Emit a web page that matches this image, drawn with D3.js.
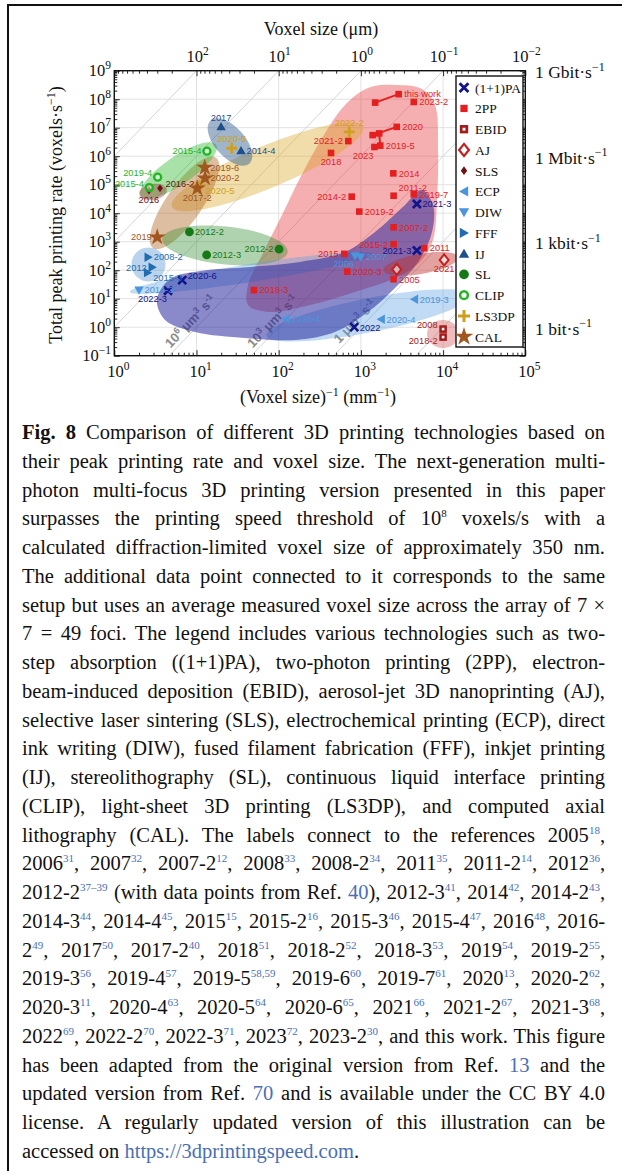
<!DOCTYPE html>
<html><head><meta charset="utf-8">
<script src="https://cdn.jsdelivr.net/npm/d3@7"></script>
<style>
body{margin:0;background:#fff;}
#wrap{position:relative;width:622px;height:1171px;overflow:hidden;background:#fff;}
#frame{position:absolute;left:7px;top:4px;width:700px;height:1300px;border-left:2px solid #111;border-top:2px solid #111;}
#chart{position:absolute;left:0;top:0;}
#cap{position:absolute;left:22px;top:418px;width:583px;font-family:"Liberation Serif","Times New Roman",serif;font-size:20.5px;line-height:28.76px;color:#111;}
#cap div{text-align:justify;text-align-last:justify;height:28.76px;}
#cap div.last{text-align-last:left;}
#cap sup{font-size:11px;line-height:0;vertical-align:baseline;position:relative;top:-8px;color:#4a6fb5;}
#cap sup.k{color:#111;}
.ref{color:#4a6fb5;}
</style></head>
<body>
<div id="wrap">
<div id="frame"></div>
<svg id="chart"></svg>
<div id="cap">
<div><b>Fig. 8</b> Comparison of different 3D printing technologies based on</div>
<div>their peak printing rate and voxel size. The next-generation multi-</div>
<div>photon multi-focus 3D printing version presented in this paper</div>
<div>surpasses the printing speed threshold of 10<sup class="k">8</sup> voxels/s with a</div>
<div>calculated diffraction-limited voxel size of approximately 350 nm.</div>
<div>The additional data point connected to it corresponds to the same</div>
<div>setup but uses an average measured voxel size across the array of 7 ×</div>
<div>7 = 49 foci. The legend includes various technologies such as two-</div>
<div>step absorption ((1+1)PA), two-photon printing (2PP), electron-</div>
<div>beam-induced deposition (EBID), aerosol-jet 3D nanoprinting (AJ),</div>
<div>selective laser sintering (SLS), electrochemical printing (ECP), direct</div>
<div>ink writing (DIW), fused filament fabrication (FFF), inkjet printing</div>
<div>(IJ), stereolithography (SL), continuous liquid interface printing</div>
<div>(CLIP), light-sheet 3D printing (LS3DP), and computed axial</div>
<div>lithography (CAL). The labels connect to the references 2005<sup>18</sup>,</div>
<div>2006<sup>31</sup>, 2007<sup>32</sup>, 2007-2<sup>12</sup>, 2008<sup>33</sup>, 2008-2<sup>34</sup>, 2011<sup>35</sup>, 2011-2<sup>14</sup>, 2012<sup>36</sup>,</div>
<div>2012-2<sup>37–39</sup> (with data points from Ref. <span class="ref">40</span>), 2012-3<sup>41</sup>, 2014<sup>42</sup>, 2014-2<sup>43</sup>,</div>
<div>2014-3<sup>44</sup>, 2014-4<sup>45</sup>, 2015<sup>15</sup>, 2015-2<sup>16</sup>, 2015-3<sup>46</sup>, 2015-4<sup>47</sup>, 2016<sup>48</sup>, 2016-</div>
<div>2<sup>49</sup>, 2017<sup>50</sup>, 2017-2<sup>40</sup>, 2018<sup>51</sup>, 2018-2<sup>52</sup>, 2018-3<sup>53</sup>, 2019<sup>54</sup>, 2019-2<sup>55</sup>,</div>
<div>2019-3<sup>56</sup>, 2019-4<sup>57</sup>, 2019-5<sup>58,59</sup>, 2019-6<sup>60</sup>, 2019-7<sup>61</sup>, 2020<sup>13</sup>, 2020-2<sup>62</sup>,</div>
<div>2020-3<sup>11</sup>, 2020-4<sup>63</sup>, 2020-5<sup>64</sup>, 2020-6<sup>65</sup>, 2021<sup>66</sup>, 2021-2<sup>67</sup>, 2021-3<sup>68</sup>,</div>
<div>2022<sup>69</sup>, 2022-2<sup>70</sup>, 2022-3<sup>71</sup>, 2023<sup>72</sup>, 2023-2<sup>30</sup>, and this work. This figure</div>
<div>has been adapted from the original version from Ref. <span class="ref">13</span> and the</div>
<div>updated version from Ref. <span class="ref">70</span> and is available under the CC BY 4.0</div>
<div>license. A regularly updated version of this illustration can be</div>
<div class="last">accessed on <span class="ref">https://3dprintingspeed.com</span>.</div>
</div>
</div>
<script>
// ---------------- DATA ----------------
const techNames = ["(1+1)PA","2PP","EBID","AJ","SLS","ECP","DIW","FFF","IJ","SL","CLIP","LS3DP","CAL"];

// [label, (voxel size)^-1 in mm^-1, total peak printing rate in voxels/s]
const paPoints    = [["2021-3",4.8e3,2.1e4],["2021-3",4.8e3,490],["2020-6",6.7,45],["2022-3",4.5,19],["2022",830,1.0]];
const tppPoints   = [["this work",2.88e3,1.5e8],["2023-2",4.4e3,8.0e7],["2020",2.73e3,1.07e7],["2019-5",1.72e3,2.35e6],["2023",1.46e3,2.1e6],
                     ["2021-2",703,3.4e6],["2018",433,1.3e6],["2014",2.48e3,2.5e5],["2014-2",773,3.8e4],["2011-2",2.5e3,4.1e4],
                     ["2019-7",4.4e3,4.6e4],["2019-2",955,1.14e4],["2007-2",2.5e3,3.2e3],["2015-2",2.5e3,817],["2011",5.9e3,592],
                     ["2015",628,373],["2020-3",683,89],["2005",2.5e3,48],["2018-3",50,20]];
const tppLinked   = [[[1.49e3,7.6e7],[2.88e3,1.5e8]],[[1.39e3,5.5e6],[2.73e3,1.07e7]],[[1.67e3,6.3e6],[1.72e3,2.35e6]]];
const ebidPoints  = [["2008",1e4,0.86],["2018-2",1e4,0.45]];
const ajPoints    = [["",2.73e3,107],["2021",1.03e4,230]];
const slsPoints   = [["2016-2",3.6,7.5e4],["2016",2.64,6.3e4]];
const ecpPoints   = [["2020-4",122,1.95],["2020-4",1.76e3,1.9],["2019-3",4.47e3,9.6]];
const diwPoints   = [["2014-3",2.0,20],["2006",848,318],["2007",989,286]];
const fffPoints   = [["2008-2",2.59,286],["2012",2.9,127],["2015-3",2.55,82]];
const ijPoints    = [["2017",19.9,1.09e7],["2014-4",34.8,1.57e6]];
const slPoints    = [["2012-2",8.2,2.2e3],["2012-3",13.3,344],["2012-2",101,546]];
const clipPoints  = [["2015-4",13.4,1.5e6],["2019-4",3.37,1.83e5],["2015-4",2.67,7.9e4]];
const ls3dpPoints = [["2020-5",26.8,1.9e6],["2022-2",722,7.1e6],["2020-5",11,9.1e4]];
const calPoints   = [["2019-6",12.6,4e5],["2020-2",12.7,1.7e5],["2017-2",10.2,7.5e4],["2019",3.33,1.44e3]];

// region outlines, log10 of (x, rate)
const region2PP  = [[3.415,8.502],[3.743,8.361],[3.901,7.8],[3.938,6.221],[3.926,4.467],[3.877,3.063],[3.719,2.291],[3.415,1.73],
                    [2.928,1.239],[2.381,0.782],[1.87,0.537],[1.627,0.782],[1.627,1.484],[1.797,2.537],[2.04,3.94],[2.259,5.239],
                    [2.527,6.642],[2.807,7.8],[3.086,8.396]];
const regionPA   = [[3.743,4.818],[3.877,4.291],[3.865,3.344],[3.695,2.291],[3.415,1.379],[3.086,0.537],[2.685,-0.165],[2.198,-0.446],
                    [1.59,-0.375],[0.982,-0.165],[0.617,0.256],[0.519,0.958],[0.678,1.695],[1.043,1.975],[1.651,2.116],[2.259,2.291],
                    [2.807,2.642],[3.172,3.344],[3.537,4.291]];
const regionIJ    = [[1.644,5.747],[1.273,6.151],[1.172,7.256],[1.543,6.853]];
const regionLS3DP = [[3.026,7.025],[1.962,4.944],[0.702,4.225],[1.765,6.305]];
const regionCAL   = [[1.237,5.944],[1.033,4.0],[0.471,2.779],[0.675,4.723]];
const regionCLIP  = [[1.238,6.4],[0.877,5.095],[0.324,4.604],[0.685,5.909]];
const regionSLS   = [[0.639,4.832],[0.488,4.47],[0.303,4.663],[0.454,5.025]];
const regionSL    = [[2.109,2.639],[1.322,2.207],[0.584,3.102],[1.371,3.533]];
const regionFFF   = [[0.623,2.204],[0.416,1.607],[0.209,2.204],[0.416,2.8]];
const regionDIW   = [[3.135,2.572],[1.68,1.593],[0.191,1.239],[1.646,2.218]];
const regionECP   = [[4.333,1.123],[3.133,-0.172],[1.852,-0.295],[3.052,1.0]];
const regionEBID  = [[4.193,-0.235],[3.999,-0.726],[3.804,-0.235],[3.999,0.256]];
const regionAJ    = [[4.186,2.453],[3.752,1.877],[3.276,1.989],[3.71,2.565]];

// constant volume-rate lines (um^3/s) and labelled ones [value, exponent text, x where label sits]
const volumeRates  = [1e-3,1,1e3,1e6,1e9,1e12,1e15,1e18];
const volumeLabels = [[1e6,"6",10],[1e3,"3",100],[1,"",1000]];

const xTickExps   = [0,1,2,3,4,5];
const yTickExps   = [-1,0,1,2,3,4,5,6,7,8,9];
const topTickExps = [2,1,0,-1,-2];            // voxel size in um
const bitLabels   = [["1 Gbit·s",1e9],["1 Mbit·s",1e6],["1 kbit·s",1e3],["1 bit·s",1]];

// ---------------- STYLE ----------------
const col = {"(1+1)PA":"#13138a","2PP":"#e3201f","EBID":"#a31c1c","AJ":"#c42222","SLS":"#6e1313","ECP":"#4a95dc",
             "DIW":"#4a95dc","FFF":"#1f6cb0","IJ":"#1e4f8a","SL":"#157a15","CLIP":"#1fb51f","LS3DP":"#cfa020","CAL":"#a0561e"};
const series = [
 ["(1+1)PA",paPoints,["r","l","ru","bl","r"]],
 ["2PP",tppPoints,["r","r","r","r","bl","l","b","r","l","ru2","r","r","r","l","r","l","r","r","r"]],
 ["EBID",ebidPoints,["lu","ld"]],
 ["AJ",ajPoints,["","b"]],
 ["SLS",slsPoints,["ru","b"]],
 ["ECP",ecpPoints,["r","r","r"]],
 ["DIW",diwPoints,["r","bl","r"]],
 ["FFF",fffPoints,["r","l","rd"]],
 ["IJ",ijPoints,["t","r"]],
 ["SL",slPoints,["r","r","l"]],
 ["CLIP",clipPoints,["l","lu","lu"]],
 ["LS3DP",ls3dpPoints,["t","t","rd"]],
 ["CAL",calPoints,["r","r","b","l"]]
];
const place = {r:[5.5,3.3,"start"],l:[-5.5,3.3,"end"],ru:[5.5,-1.5,"start"],ru2:[5,-4.5,"start"],lu:[-5.5,-1,"end"],ld:[-5.5,6.5,"end"],
               rd:[5.5,8,"start"],t:[0,-6,"middle"],b:[0,12.5,"middle"],bl:[-1,11.5,"end"]};

// ---------------- SCALES ----------------
const svg = d3.select("#chart").attr("width",622).attr("height",412);
const x = d3.scaleLog().domain([1,1e5]).range([114.3,525.3]);
const y = d3.scaleLog().domain([1e-1,1e9]).range([355.7,70.7]);
const L=x.range()[0], R=x.range()[1], T=y.range()[1], B=y.range()[0];
const serif='"Liberation Serif","Times New Roman",serif', sans='"Liberation Sans",Arial,sans-serif';
const sup = e => (e<0?"−"+(-e):""+e);

svg.append("defs").append("clipPath").attr("id","pc").append("rect").attr("x",L).attr("y",T).attr("width",R-L).attr("height",B-T);

// grid
const grid = svg.append("g").attr("stroke","#e2e2e2").attr("stroke-width",1);
xTickExps.forEach(e=>grid.append("line").attr("x1",x(10**e)).attr("x2",x(10**e)).attr("y1",T).attr("y2",B));
yTickExps.forEach(e=>grid.append("line").attr("y1",y(10**e)).attr("y2",y(10**e)).attr("x1",L).attr("x2",R));

// diagonal iso-volume-rate lines
const plot = svg.append("g").attr("clip-path","url(#pc)");
const rateAt = (v,xv)=> v*xv*xv*xv/1e9;
volumeRates.forEach(v=>{
  plot.append("line").attr("x1",x(1)).attr("y1",y(rateAt(v,1))).attr("x2",x(1e5)).attr("y2",y(rateAt(v,1e5)))
      .attr("stroke","#d4d4d4").attr("stroke-width",1);
});
const ang = Math.atan2(y(rateAt(1,1e3))-y(rateAt(1,1e4)), x(1e4)-x(1e3))*180/Math.PI;
volumeLabels.forEach(([v,ex,xv])=>{
  const px=x(xv), py=y(rateAt(v,xv));
  const t=plot.append("text").attr("transform",`translate(${px},${py}) rotate(${-ang})`).attr("text-anchor","middle")
    .attr("dy",-4).attr("font-family",sans).attr("font-weight","bold").attr("font-size",13).attr("fill","#8c8c8c");
  if(ex){ t.append("tspan").text("10"); t.append("tspan").attr("dy",-5).attr("font-size",9).text(ex); t.append("tspan").attr("dy",5).text(" μm"); }
  else { t.append("tspan").text("1 μm"); }
  t.append("tspan").attr("dy",-5).attr("font-size",9).text("3");
  t.append("tspan").attr("dy",5).text(" s");
  t.append("tspan").attr("dy",-5).attr("font-size",9).text("-1");
});

// regions
const lineE = d3.line().x(d=>x(10**d[0])).y(d=>y(10**d[1])).curve(d3.curveCardinalClosed.tension(-0.657));
const lineR = d3.line().x(d=>x(10**d[0])).y(d=>y(10**d[1])).curve(d3.curveCatmullRomClosed.alpha(0.5));
const regions = [
 [region2PP,lineR,"#e8383b",0.4],
 [regionLS3DP,lineE,"#d9a520",0.38],
 [regionCAL,lineE,"#b0651e",0.42],
 [regionCLIP,lineE,"#33bb33",0.42],
 [regionSLS,lineE,"#8b1a1a",0.35],
 [regionIJ,lineE,"#2d5a8c",0.45],
 [regionSL,lineE,"#2e8b2e",0.38],
 [regionFFF,lineE,"#4a8fd0",0.38],
 [regionDIW,lineE,"#5aa0e0",0.38],
 [regionECP,lineE,"#5aa0e0",0.38],
 [regionPA,lineR,"#1e1e9a",0.52],
 [regionAJ,lineE,"#c0302b",0.45],
 [regionEBID,lineE,"#d05050",0.38]
];
regions.forEach(([pts,ln,c,o])=>plot.append("path").attr("d",ln(pts)).attr("fill",c).attr("fill-opacity",o));

// ticks (inward) via d3 axes
const minorX=[], minorY=[], minorTop=[];
for(let e=0;e<5;e++) for(let m=2;m<10;m++) minorX.push(m*10**e);
for(let e=-1;e<9;e++) for(let m=2;m<10;m++) minorY.push(m*10**e);
for(let n=-2;n<=3;n++) for(let m=2;m<10;m++){const v=1000/(m*10**n); if(v>1&&v<1e5) minorTop.push(v);}
const majX = xTickExps.map(e=>10**e), majY = yTickExps.map(e=>10**e);
function ax(gen,pos,vals,size){
  const g=svg.append("g").attr("transform",pos).call(gen.tickValues(vals).tickSize(size).tickSizeOuter(0).tickFormat(""));
  g.select(".domain").remove(); g.selectAll("line").attr("stroke","#111").attr("stroke-width",0.9);
}
ax(d3.axisTop(x),`translate(0,${B})`,majX,5.5); ax(d3.axisTop(x),`translate(0,${B})`,minorX,3);
ax(d3.axisBottom(x),`translate(0,${T})`,majX,5.5); ax(d3.axisBottom(x),`translate(0,${T})`,minorTop,3);
ax(d3.axisRight(y),`translate(${L},0)`,majY,5.5); ax(d3.axisRight(y),`translate(${L},0)`,minorY,3);
ax(d3.axisLeft(y),`translate(${R},0)`,majY,5.5); ax(d3.axisLeft(y),`translate(${R},0)`,minorY,3);

svg.append("rect").attr("x",L).attr("y",T).attr("width",R-L).attr("height",B-T).attr("fill","none").attr("stroke","#111").attr("stroke-width",1.4);

// tick labels
function powText(px,py,anchor,e){
  const t=svg.append("text").attr("x",px).attr("y",py).attr("text-anchor",anchor).attr("font-family",serif).attr("font-size",16.5).attr("fill","#111");
  t.append("tspan").text("10"); t.append("tspan").attr("dy",-7).attr("font-size",11.5).text(sup(e));
}
yTickExps.forEach(e=>powText(111,y(10**e)+5.5,"end",e));
xTickExps.forEach(e=>powText(x(10**e)+4,377,"middle",e));
topTickExps.forEach(e=>powText(x(1000/10**e)+1,62,"middle",e));

// titles
svg.append("text").attr("x",321).attr("y",35).attr("text-anchor","middle").attr("font-family",serif).attr("font-size",18).attr("fill","#111").text("Voxel size (μm)");
const bt=svg.append("text").attr("x",318).attr("y",403).attr("text-anchor","middle").attr("font-family",serif).attr("font-size",18).attr("fill","#111");
bt.append("tspan").text("(Voxel size)"); bt.append("tspan").attr("dy",-7).attr("font-size",12).text("−1");
bt.append("tspan").attr("dy",7).text(" (mm"); bt.append("tspan").attr("dy",-7).attr("font-size",12).text("−1"); bt.append("tspan").attr("dy",7).text(")");
const lt=svg.append("text").attr("transform","translate(62,215) rotate(-90)").attr("text-anchor","middle").attr("font-family",serif).attr("font-size",18).attr("fill","#111");
lt.append("tspan").text("Total peak printing rate (voxels·s"); lt.append("tspan").attr("dy",-7).attr("font-size",12).text("−1"); lt.append("tspan").attr("dy",7).text(")");
bitLabels.forEach(([s,v])=>{
  const t=svg.append("text").attr("x",535).attr("y",y(v)+7.7).attr("font-family",serif).attr("font-size",17.5).attr("fill","#111");
  t.append("tspan").text(s); t.append("tspan").attr("dy",-7.5).attr("font-size",12).text("−1");
});

// markers
function marker(g,tech,cx,cy,k){
  const c=col[tech], m=g.append("g").attr("transform",`translate(${cx},${cy}) scale(${k})`);
  switch(tech){
    case "(1+1)PA": m.append("path").attr("d","M-4,-4L4,4M-4,4L4,-4").attr("stroke",c).attr("stroke-width",2.6).attr("fill","none"); break;
    case "2PP": m.append("rect").attr("x",-3.3).attr("y",-3.3).attr("width",6.6).attr("height",6.6).attr("fill",c); break;
    case "EBID": m.append("rect").attr("x",-3.8).attr("y",-3.8).attr("width",7.6).attr("height",7.6).attr("fill",c);
                 m.append("rect").attr("x",-1.3).attr("y",-1.3).attr("width",2.6).attr("height",2.6).attr("fill","#fff"); break;
    case "AJ": m.append("path").attr("d","M0,-5.5L4.5,0L0,5.5L-4.5,0Z").attr("fill","#fff").attr("fill-opacity",0.6).attr("stroke",c).attr("stroke-width",2); break;
    case "SLS": m.append("path").attr("d","M0,-4L2.9,0L0,4L-2.9,0Z").attr("fill",c); break;
    case "ECP": m.append("path").attr("d","M-4.5,0L3.8,-4.7L3.8,4.7Z").attr("fill",c); break;
    case "DIW": m.append("path").attr("d","M-4.7,-3.6L4.7,-3.6L0,4.6Z").attr("fill",c); break;
    case "FFF": m.append("path").attr("d","M4.5,0L-3.8,-4.7L-3.8,4.7Z").attr("fill",c); break;
    case "IJ": m.append("path").attr("d","M0,-4.6L4.7,3.6L-4.7,3.6Z").attr("fill",c); break;
    case "SL": m.append("circle").attr("r",4.4).attr("fill",c); break;
    case "CLIP": m.append("circle").attr("r",3.5).attr("fill","#fff").attr("fill-opacity",0.5).attr("stroke",c).attr("stroke-width",2.3); break;
    case "LS3DP": m.append("path").attr("d","M-5.5,0H5.5M0,-5.5V5.5").attr("stroke",c).attr("stroke-width",2.8); break;
    case "CAL": m.append("path").attr("d",d3.symbol(d3.symbolStar,88)()).attr("fill",c); break;
  }
}
const pg = svg.append("g");
tppLinked.forEach(pair=>{
  pg.append("path").attr("d",d3.line().x(d=>x(d[0])).y(d=>y(d[1]))(pair)).attr("stroke",col["2PP"]).attr("stroke-width",2).attr("fill","none");
  marker(pg,"2PP",x(pair[0][0]),y(pair[0][1]),1);
});
series.forEach(([tech,pts,pl])=>{
  pts.forEach((p,i)=>{
    const px=x(p[1]), py=y(p[2]);
    marker(pg,tech,px,py,1);
    if(p[0] && pl[i]){
      const [dx,dy,an]=place[pl[i]];
      pg.append("text").attr("x",px+dx).attr("y",py+dy).attr("text-anchor",an).attr("font-family",sans).attr("font-size",9.3)
        .attr("fill",col[tech]).text(p[0]);
    }
  });
});

// legend
const lg=svg.append("g");
lg.append("rect").attr("x",456).attr("y",76).attr("width",67).attr("height",271).attr("fill","#fff").attr("stroke","#111").attr("stroke-width",1.4);
techNames.forEach((n,i)=>{
  const ly=87.7+i*20.75;
  marker(lg,n,464,ly,1.1);
  lg.append("text").attr("x",475).attr("y",ly+4.8).attr("font-family",serif).attr("font-size",13.5).attr("fill","#111").text(n);
});
</script>
</body></html>
